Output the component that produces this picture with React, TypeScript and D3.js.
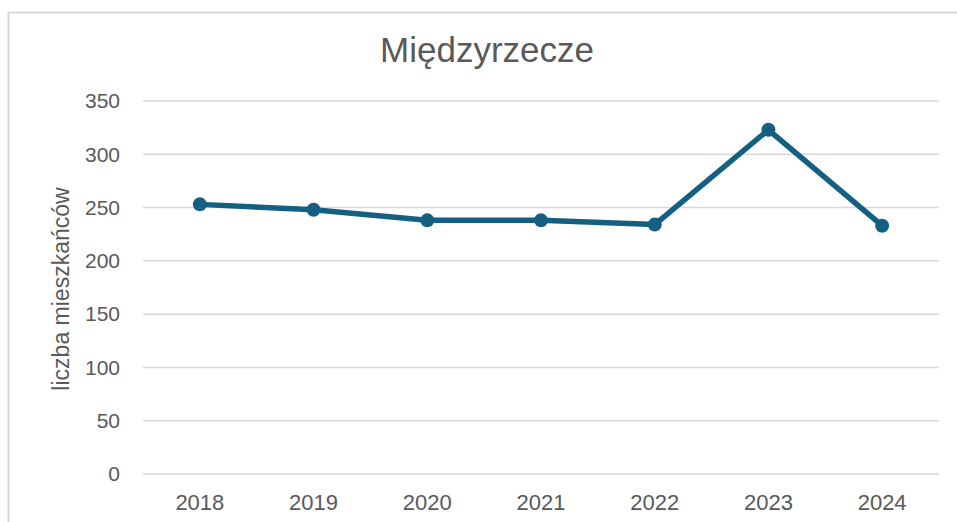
import React, { useEffect, useRef } from 'react';
import * as d3 from 'd3';

// Dane
const years: string[] = ['2018', '2019', '2020', '2021', '2022', '2023', '2024'];
const residents: number[] = [253, 248, 238, 238, 234, 323, 233];
const yTicks: number[] = [0, 50, 100, 150, 200, 250, 300, 350];

const chartTitle = 'Międzyrzecze';
const yAxisLabel = 'liczba mieszkańców';

const App: React.FC = () => {
  const svgRef = useRef<SVGSVGElement>(null);

  useEffect(() => {
    if (!svgRef.current) return;

    // Clear previous chart
    d3.select(svgRef.current).selectAll('*').remove();

    const width = 957;
    const height = 522;
    const font = '"Liberation Sans", Arial, sans-serif';
    const textColor = '#595959';
    const gridColor = '#d9d9d9';
    const lineColor = '#156082';

    const plot = { left: 143, right: 939, top: 101, bottom: 474 };

    const svg = d3
      .select(svgRef.current)
      .attr('width', width)
      .attr('height', height);

    // Chart frame
    svg
      .append('rect')
      .attr('x', 8.5)
      .attr('y', 12.5)
      .attr('width', 980)
      .attr('height', 540)
      .attr('fill', '#ffffff')
      .attr('stroke', gridColor)
      .attr('stroke-width', 2);

    // Scales
    const x = d3
      .scaleBand<string>()
      .domain(years)
      .range([plot.left, plot.right]);

    const y = d3
      .scaleLinear()
      .domain([0, 350])
      .range([plot.bottom, plot.top]);

    // Gridlines
    svg
      .append('g')
      .selectAll('line')
      .data(yTicks)
      .enter()
      .append('line')
      .attr('x1', plot.left)
      .attr('x2', plot.right)
      .attr('y1', (d) => y(d))
      .attr('y2', (d) => y(d))
      .attr('stroke', gridColor)
      .attr('stroke-width', 1.5);

    // Y tick labels
    svg
      .append('g')
      .selectAll('text')
      .data(yTicks)
      .enter()
      .append('text')
      .attr('x', 120)
      .attr('y', (d) => y(d))
      .attr('dy', '0.35em')
      .attr('text-anchor', 'end')
      .attr('fill', textColor)
      .style('font-family', font)
      .style('font-size', '21px')
      .text((d) => String(d));

    // X tick labels
    svg
      .append('g')
      .selectAll('text')
      .data(years)
      .enter()
      .append('text')
      .attr('x', (d) => (x(d) as number) + x.bandwidth() / 2)
      .attr('y', 510)
      .attr('text-anchor', 'middle')
      .attr('fill', textColor)
      .style('font-family', font)
      .style('font-size', '22px')
      .text((d) => d);

    // Title
    svg
      .append('text')
      .attr('x', 487)
      .attr('y', 62)
      .attr('text-anchor', 'middle')
      .attr('fill', textColor)
      .style('font-family', font)
      .style('font-size', '35px')
      .text(chartTitle);

    // Y axis title
    svg
      .append('text')
      .attr('transform', 'translate(69, 289) rotate(-90)')
      .attr('text-anchor', 'middle')
      .attr('fill', textColor)
      .style('font-family', font)
      .style('font-size', '23px')
      .text(yAxisLabel);

    // Line
    const line = d3
      .line<number>()
      .x((_, i) => (x(years[i]) as number) + x.bandwidth() / 2)
      .y((d) => y(d));

    svg
      .append('path')
      .datum(residents)
      .attr('d', line)
      .attr('fill', 'none')
      .attr('stroke', lineColor)
      .attr('stroke-width', 5.5)
      .attr('stroke-linejoin', 'round')
      .attr('stroke-linecap', 'round');

    // Markers
    svg
      .append('g')
      .selectAll('circle')
      .data(residents)
      .enter()
      .append('circle')
      .attr('cx', (_, i) => (x(years[i]) as number) + x.bandwidth() / 2)
      .attr('cy', (d) => y(d))
      .attr('r', 7)
      .attr('fill', lineColor);
  }, []);

  return (
    <svg
      ref={svgRef}
      style={{ position: 'absolute', left: 0, top: 0, display: 'block' }}
    ></svg>
  );
};

export default App;
